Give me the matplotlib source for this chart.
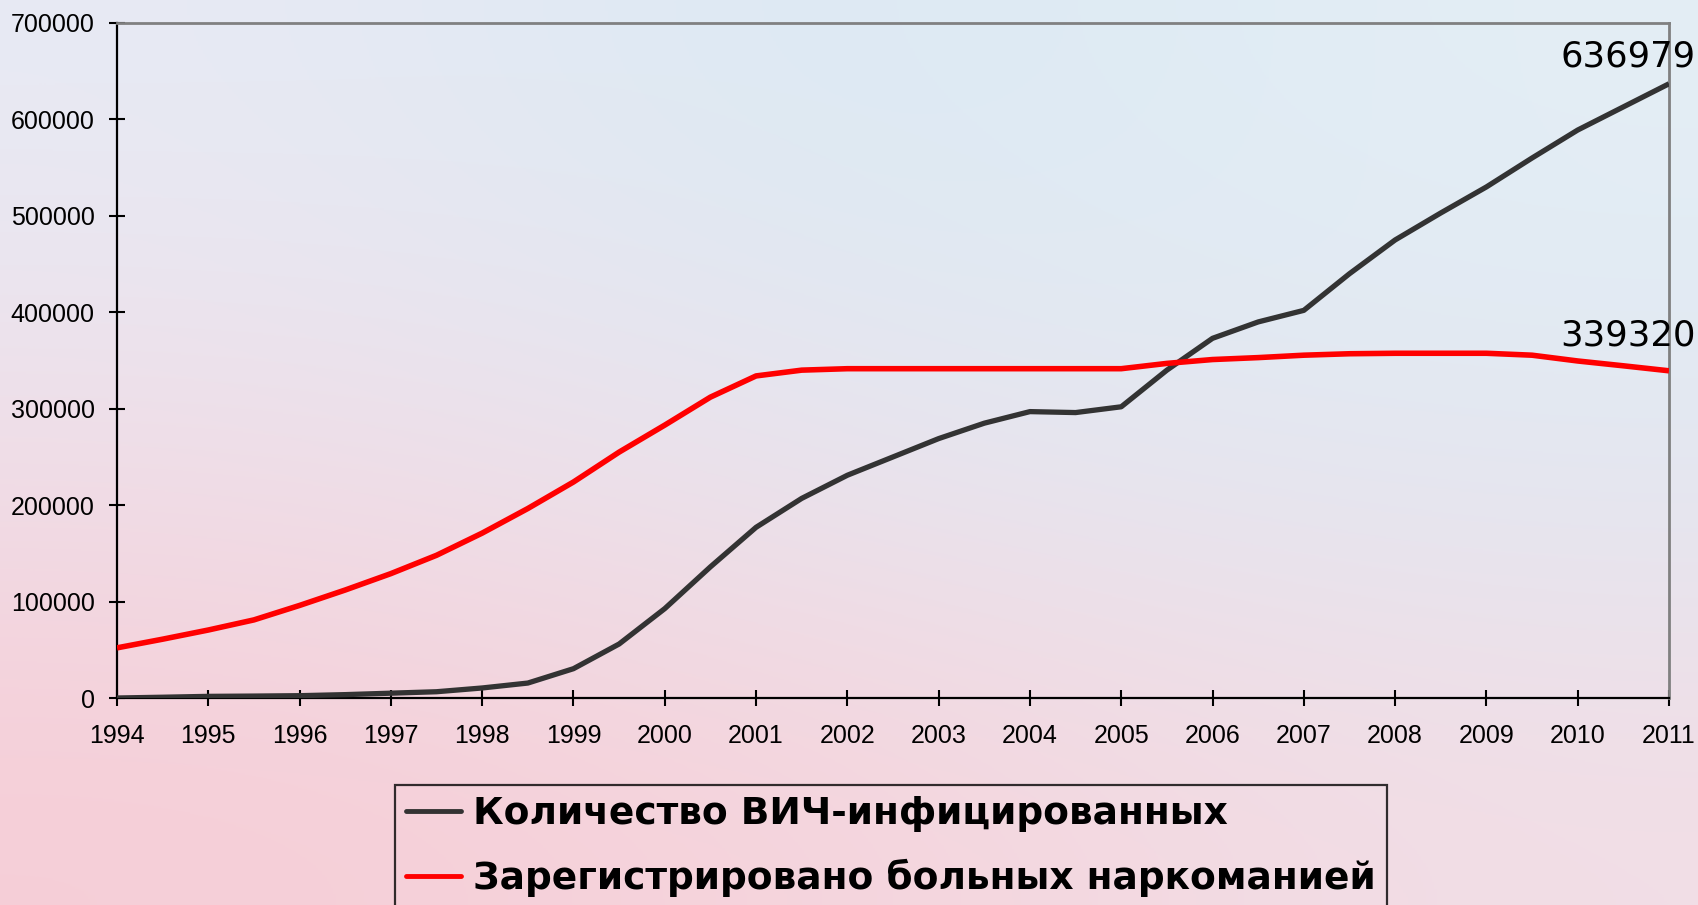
import numpy as np
import matplotlib
matplotlib.use("Agg")
import matplotlib.pyplot as plt
from matplotlib.ticker import FixedLocator

# ---- data ----
hiv_years = [1994, 1994.5, 1995, 1995.5, 1996, 1996.5, 1997, 1997.5, 1998, 1998.5,
             1999, 1999.5, 2000, 2000.5, 2001, 2001.5, 2002, 2002.5, 2003, 2003.5,
             2004, 2004.5, 2005, 2005.5, 2006, 2006.5, 2007, 2007.5, 2008, 2008.5,
             2009, 2009.5, 2010, 2010.5, 2011]
hiv_values = [0, 800, 1700, 2000, 2400, 3500, 5000, 6500, 10400, 15500,
              30400, 56000, 92700, 136000, 177000, 207000, 231000, 250000, 269000, 285000,
              297000, 296000, 302000, 340000, 373000, 390000, 402000, 440000, 475000, 503000,
              530000, 560000, 589000, 613000, 636979]

drug_years = [1994, 1994.5, 1995, 1995.5, 1996, 1996.5, 1997, 1997.5, 1998, 1998.5,
              1999, 1999.5, 2000, 2000.5, 2001, 2001.5, 2002, 2003, 2004, 2005,
              2005.5, 2006, 2006.5, 2007, 2007.5, 2008, 2009, 2009.5, 2010, 2010.5, 2011]
drug_values = [52000, 61000, 70500, 81000, 96000, 112000, 129000, 148000, 171000, 196500,
               224000, 255000, 283000, 312000, 334000, 340000, 341500, 341500, 341500, 341500,
               347000, 351000, 353000, 355500, 357000, 357500, 357500, 355500, 349500, 344500, 339320]

x_ticks = list(range(1994, 2012))
y_ticks = [0, 100000, 200000, 300000, 400000, 500000, 600000, 700000]

hiv_label = "Количество ВИЧ-инфицированных"
drug_label = "Зарегистрировано больных наркоманией"
end_labels = ["636979", "339320"]

# ---- figure ----
W, H = 1698, 905
fig = plt.figure(figsize=(W / 100, H / 100), dpi=100)

# background gradient
bg = fig.add_axes([0, 0, 1, 1], zorder=-10)
grid = np.array([
    [(232, 234, 244), (218, 233, 243), (228, 238, 245)],
    [(240, 222, 232), (232, 230, 240), (225, 232, 242)],
    [(246, 206, 215), (246, 212, 220), (242, 222, 230)],
], dtype=float) / 255.0
bg.imshow(grid, aspect="auto", interpolation="bicubic", extent=[0, 1, 0, 1])
bg.set_axis_off()

ax = fig.add_axes([117 / W, 1 - 698 / H, (1669 - 117) / W, (698 - 23) / H])
ax.set_facecolor("none")

ax.plot(hiv_years, hiv_values, color="#333333", lw=3.8, solid_capstyle="butt",
        solid_joinstyle="round", zorder=3, label=hiv_label)
ax.plot(drug_years, drug_values, color="#ff0000", lw=4.0, solid_capstyle="butt",
        solid_joinstyle="round", zorder=3, label=drug_label)

ax.set_xlim(1994, 2011)
ax.set_ylim(0, 700000)
ax.xaxis.set_major_locator(FixedLocator(x_ticks))
ax.yaxis.set_major_locator(FixedLocator(y_ticks))
ax.set_xticklabels([str(v) for v in x_ticks])
ax.set_yticklabels([str(v) for v in y_ticks])

for lab in ax.get_xticklabels() + ax.get_yticklabels():
    lab.set_fontfamily("Liberation Sans")
    lab.set_fontsize(18)
ax.tick_params(axis="both", direction="inout", length=12, width=1.5, color="black")
ax.tick_params(axis="x", pad=13)
ax.tick_params(axis="y", pad=10)

for s in ["left", "bottom"]:
    ax.spines[s].set_color("black")
    ax.spines[s].set_linewidth(1.6)
for s in ["top", "right"]:
    ax.spines[s].set_color("#808080")
    ax.spines[s].set_linewidth(2.0)

# end labels
ax.annotate(end_labels[0], xy=(hiv_years[-1], hiv_values[-1]), xytext=(-29.5, 19.5),
            textcoords="offset points", ha="center", va="center",
            fontsize=25.5, family="DejaVu Sans", annotation_clip=False)
ax.annotate(end_labels[1], xy=(drug_years[-1], drug_values[-1]), xytext=(-29.5, 25.5),
            textcoords="offset points", ha="center", va="center",
            fontsize=25.5, family="DejaVu Sans", annotation_clip=False)

# legend
leg = ax.legend(loc="upper left", bbox_to_anchor=(395 / W, 1 - 785 / H),
                bbox_transform=fig.transFigure, borderaxespad=0,
                prop={"family": "DejaVu Sans", "weight": "bold", "size": 27},
                handlelength=1.47, handletextpad=0.32, borderpad=0.3,
                labelspacing=0.70, fancybox=False, frameon=True)
leg.get_frame().set_edgecolor("black")
leg.get_frame().set_facecolor("none")
leg.get_frame().set_linewidth(1.6)
for h in leg.get_lines():
    h.set_linewidth(3.5)
    h.set_solid_capstyle("round")

fig.savefig("out.png", dpi=100)
